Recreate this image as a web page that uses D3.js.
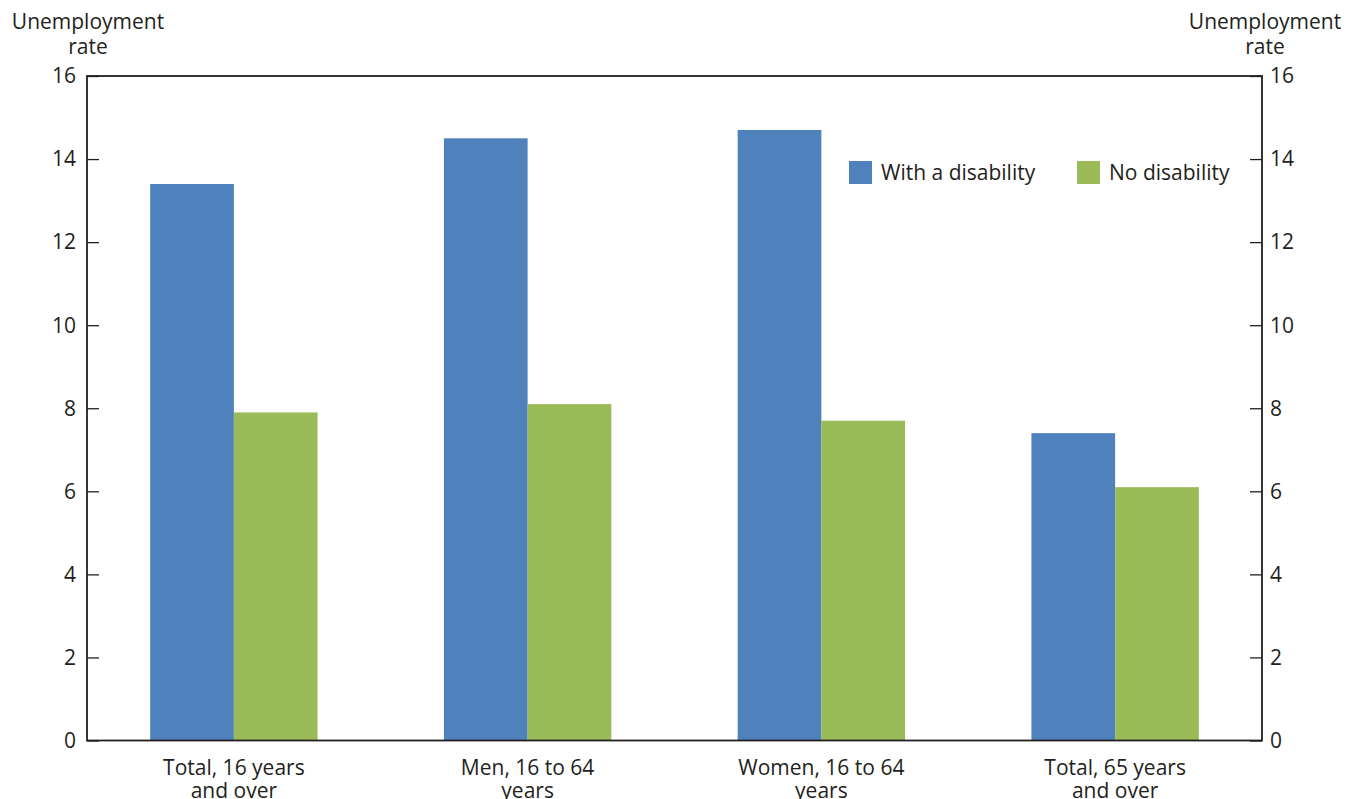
<!DOCTYPE html>
<html><head><meta charset="utf-8">
<script src="https://cdn.jsdelivr.net/npm/d3@7"></script>
<style>body{margin:0;background:#fff}svg text{font-family:"Open Sans",sans-serif;fill:#231f20}</style>
</head><body><svg id="c" width="1348" height="799"></svg>
<script>
const categories = [["Total, 16 years","and over"],["Men, 16 to 64","years"],["Women, 16 to 64","years"],["Total, 65 years","and over"]];
const seriesNames = ["With a disability","No disability"];
const withDisability = [13.4, 14.5, 14.7, 7.4];
const noDisability = [7.9, 8.1, 7.7, 6.1];
const yTicks = [0,2,4,6,8,10,12,14,16];
const colors = ["#4f81bd","#9bbb59"];

const svg = d3.select("#c");
const L=87, R=1262, T=76, B=740.5;
const x = d3.scaleBand().domain(d3.range(categories.length)).range([L,R]).paddingInner(0).paddingOuter(0);
const bw = 83.7;
const y = d3.scaleLinear().domain([0,16]).range([B,T]);
const fs = 21;

// bars
const series=[withDisability,noDisability];
series.forEach((vals,si)=>{
  svg.append("g").selectAll("rect").data(vals).join("rect")
    .attr("x",(d,i)=>x(i)+x.bandwidth()/2 - bw + si*bw)
    .attr("width",bw)
    .attr("y",d=>y(d)).attr("height",d=>B-y(d))
    .attr("fill",colors[si]);
});

// frame
svg.append("rect").attr("x",L).attr("y",T).attr("width",R-L).attr("height",B-T)
  .attr("fill","none").attr("stroke","#231f20").attr("stroke-width",1.8);

// axes
const la = svg.append("g").attr("transform",`translate(${L},0)`)
  .call(d3.axisRight(y).tickValues(yTicks).tickSize(12).tickFormat(""));
const ra = svg.append("g").attr("transform",`translate(${R},0)`)
  .call(d3.axisLeft(y).tickValues(yTicks).tickSize(12).tickFormat(""));
[la,ra].forEach(a=>{a.select(".domain").remove();a.selectAll("line").attr("stroke","#231f20").attr("stroke-width",1.3);});

svg.append("g").selectAll("text").data(yTicks).join("text")
  .attr("x",L-11).attr("y",d=>y(d)).attr("dy","0.35em").attr("text-anchor","end")
  .attr("font-size",fs).text(d=>d);
svg.append("g").selectAll("text").data(yTicks).join("text")
  .attr("x",R+8).attr("y",d=>y(d)).attr("dy","0.35em").attr("text-anchor","start")
  .attr("font-size",fs).text(d=>d);

// axis titles
[[88],[1265]].forEach(([cx])=>{
  const t=svg.append("text").attr("text-anchor","middle").attr("font-size",fs);
  t.append("tspan").attr("x",cx).attr("y",29).text("Unemployment");
  t.append("tspan").attr("x",cx).attr("y",54).text("rate");
});

// category labels
categories.forEach((c,i)=>{
  const t=svg.append("text").attr("text-anchor","middle").attr("font-size",fs);
  c.forEach((ln,j)=>t.append("tspan").attr("x",x(i)+x.bandwidth()/2).attr("y",775+j*23).text(ln));
});

// legend
const lg=[{x:849,tx:881},{x:1077,tx:1109}];
seriesNames.forEach((n,i)=>{
  svg.append("rect").attr("x",lg[i].x).attr("y",161).attr("width",23).attr("height",23).attr("fill",colors[i]);
  svg.append("text").attr("x",lg[i].tx).attr("y",180).attr("font-size",fs).text(n);
});
</script></body></html>
